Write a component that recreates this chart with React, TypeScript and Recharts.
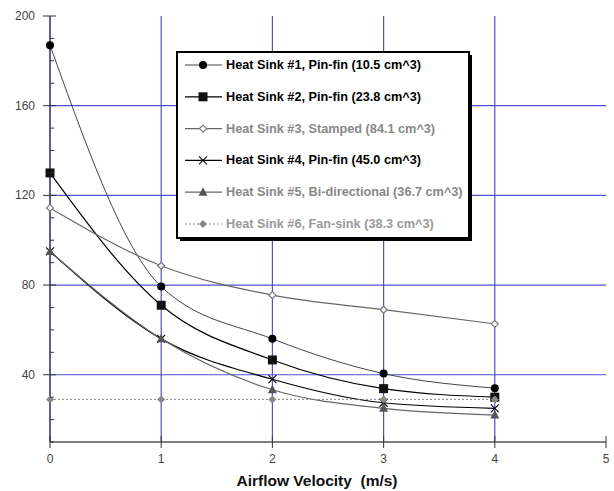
import React from 'react';
import { LineChart, Line, XAxis, YAxis, CartesianGrid, Legend } from 'recharts';

const velocities = [0, 1, 2, 3, 4];
const hs1 = [187, 79.3, 56, 40.5, 34];
const hs2 = [130, 71, 46.6, 33.8, 30];
const hs3 = [114.4, 88.6, 75.5, 69, 62.7];
const hs4 = [95, 56, 38, 27.5, 25];
const hs5 = [95, 56, 33.3, 25, 22];
const hs6 = [29, 29, 29, 29, 29];

const seriesNames = [
  'Heat Sink #1, Pin-fin (10.5 cm^3)',
  'Heat Sink #2, Pin-fin (23.8 cm^3)',
  'Heat Sink #3, Stamped (84.1 cm^3)',
  'Heat Sink #4, Pin-fin (45.0 cm^3)',
  'Heat Sink #5, Bi-directional (36.7 cm^3)',
  'Heat Sink #6, Fan-sink (38.3 cm^3)',
];

const xTicks = [0, 1, 2, 3, 4, 5];
const yMajorTicks = [40, 80, 120, 160, 200];
const yAllTicks = [10, 20, 30, 40, 50, 60, 70, 80, 90, 100, 110, 120, 130, 140, 150, 160, 170, 180, 190, 200];
const xAxisTitle = 'Airflow Velocity  (m/s)';

const data = velocities.map((v, i) => ({
  v,
  hs1: hs1[i],
  hs2: hs2[i],
  hs3: hs3[i],
  hs4: hs4[i],
  hs5: hs5[i],
  hs6: hs6[i],
}));

const FONT = '"Liberation Sans", Arial, sans-serif';

const CircleMark = ({ cx, cy }: any) => <circle cx={cx} cy={cy} r={4} fill="#000" />;
const SquareMark = ({ cx, cy }: any) => <rect x={cx - 4.5} y={cy - 4.5} width={9} height={9} fill="#111" />;
const OpenDiamondMark = ({ cx, cy }: any) => (
  <polygon points={`${cx},${cy - 3.5} ${cx + 3.5},${cy} ${cx},${cy + 3.5} ${cx - 3.5},${cy}`} fill="#fff" stroke="#777" strokeWidth={1.2} />
);
const CrossMark = ({ cx, cy }: any) => (
  <g stroke="#000" strokeWidth={1.1}>
    <line x1={cx - 4} y1={cy - 4} x2={cx + 4} y2={cy + 4} />
    <line x1={cx - 4} y1={cy + 4} x2={cx + 4} y2={cy - 4} />
  </g>
);
const TriangleMark = ({ cx, cy }: any) => (
  <polygon points={`${cx},${cy - 5} ${cx + 4.5},${cy + 3.5} ${cx - 4.5},${cy + 3.5}`} fill="#555" />
);
const FilledDiamondMark = ({ cx, cy }: any) => (
  <polygon points={`${cx},${cy - 4} ${cx + 4},${cy} ${cx},${cy + 4} ${cx - 4},${cy}`} fill="#888" />
);

const seriesStyles = [
  { key: 'hs1', stroke: '#444', width: 1, dash: undefined, Mark: CircleMark, text: '#000' },
  { key: 'hs2', stroke: '#000', width: 1.2, dash: undefined, Mark: SquareMark, text: '#000' },
  { key: 'hs3', stroke: '#666', width: 1.2, dash: undefined, Mark: OpenDiamondMark, text: '#888' },
  { key: 'hs4', stroke: '#000', width: 1.2, dash: undefined, Mark: CrossMark, text: '#000' },
  { key: 'hs5', stroke: '#666', width: 1.2, dash: undefined, Mark: TriangleMark, text: '#888' },
  { key: 'hs6', stroke: '#888', width: 1, dash: '2 2', Mark: FilledDiamondMark, text: '#999' },
];

const LeftTick = ({ x, y, payload }: any) => {
  const v = payload.value;
  const major = yMajorTicks.includes(v);
  return (
    <g>
      {major ? (
        <line x1={x - 7} y1={y} x2={x + 6} y2={y} stroke="#333" strokeWidth={1} />
      ) : (
        <line x1={x} y1={y} x2={x + 4} y2={y} stroke="#333" strokeWidth={1} />
      )}
      {major && (
        <text x={x - 15} y={y} textAnchor="end" dominantBaseline="central" fontFamily={FONT} fontSize={12} fill="#444">
          {v}
        </text>
      )}
    </g>
  );
};

const RightTick = ({ x, y, payload }: any) => {
  const v = payload.value;
  const major = yMajorTicks.includes(v);
  return major ? (
    <line x1={x - 6} y1={y} x2={x + 6} y2={y} stroke="#333" strokeWidth={1} />
  ) : (
    <line x1={x - 4} y1={y} x2={x} y2={y} stroke="#333" strokeWidth={1} />
  );
};

const BottomTick = ({ x, y, payload }: any) => (
  <g>
    <line x1={x} y1={y - 6} x2={x} y2={y + 6} stroke="#333" strokeWidth={1} />
    <text x={x} y={y + 17} textAnchor="middle" dominantBaseline="central" fontFamily={FONT} fontSize={12} fill="#444">
      {payload.value}
    </text>
  </g>
);

const TopTick = ({ x, y }: any) => <line x1={x} y1={y - 4} x2={x} y2={y + 5} stroke="#333" strokeWidth={1} />;

const LegendBox = () => (
  <svg width={300} height={194} style={{ display: 'block' }}>
    <rect x={4} y={4} width={292} height={186} fill="#000" />
    <rect x={1} y={1} width={292} height={186} fill="#fff" stroke="#000" strokeWidth={2} />
    {seriesStyles.map((s, i) => {
      const cy = 14 + i * 31.8;
      const M = s.Mark;
      return (
        <g key={s.key}>
          <line x1={9} y1={cy} x2={46} y2={cy} stroke={s.stroke} strokeWidth={s.width} strokeDasharray={s.dash} />
          <M cx={27} cy={cy} />
          <text x={50} y={cy} dominantBaseline="central" fontFamily={FONT} fontWeight="bold" fontSize={12.7} fill={s.text}>
            {seriesNames[i]}
          </text>
        </g>
      );
    })}
  </svg>
);

const AxisTitle = ({ viewBox }: any) => {
  const { x, y, width } = viewBox;
  return (
    <text
      x={x + width / 2 - 11}
      y={y + 38}
      textAnchor="middle"
      dominantBaseline="central"
      fontFamily={FONT}
      fontWeight="bold"
      fontSize={15.5}
      fill="#111"
      style={{ whiteSpace: 'pre' }}
    >
      {xAxisTitle}
    </text>
  );
};

export default function App() {
  return (
    <div style={{ position: 'absolute', left: 0, top: 0, background: '#fff' }}>
      <LineChart width={614} height={491} data={data} margin={{ top: 16, right: 8, bottom: 0, left: 0 }}>
        <CartesianGrid
          horizontalValues={[40, 80, 120, 160]}
          verticalValues={[1, 2, 3, 4]}
          stroke="#5050d4"
          strokeWidth={1.2}
        />
        <XAxis
          dataKey="v"
          type="number"
          domain={[0, 5]}
          ticks={xTicks}
          interval={0}
          height={49}
          tickSize={0}
          tickMargin={0}
          tick={<BottomTick />}
          axisLine={{ stroke: '#555', strokeWidth: 1.5 }}
          tickLine={false}
          label={<AxisTitle />}
        />
        <XAxis
          xAxisId="top"
          orientation="top"
          dataKey="v"
          type="number"
          domain={[0, 5]}
          ticks={xTicks}
          interval={0}
          height={0}
          tickSize={0}
          tickMargin={0}
          tick={<TopTick />}
          axisLine={{ stroke: '#555', strokeWidth: 1.5 }}
          tickLine={false}
        />
        <YAxis
          type="number"
          domain={[10, 200]}
          ticks={yAllTicks}
          interval={0}
          width={50}
          tickSize={0}
          tickMargin={0}
          tick={<LeftTick />}
          axisLine={{ stroke: '#2a2a70', strokeWidth: 1.5 }}
          tickLine={false}
          allowDataOverflow
        />
        <YAxis
          yAxisId="right"
          orientation="right"
          type="number"
          domain={[10, 200]}
          ticks={yAllTicks}
          interval={0}
          width={0}
          tickSize={0}
          tickMargin={0}
          tick={<RightTick />}
          axisLine={{ stroke: '#2a2a70', strokeWidth: 1.5 }}
          tickLine={false}
          allowDataOverflow
        />
        {seriesStyles.map((s) => {
          const M = s.Mark;
          return (
            <Line
              key={s.key}
              dataKey={s.key}
              type="monotone"
              stroke={s.stroke}
              strokeWidth={s.width}
              strokeDasharray={s.dash}
              dot={(p: any) => <M key={`${s.key}-${p.index}`} cx={p.cx} cy={p.cy} />}
              activeDot={false}
              isAnimationActive={false}
            />
          );
        })}
        <Legend
          layout="vertical"
          align="center"
          verticalAlign="middle"
          content={<LegendBox />}
          wrapperStyle={{ position: 'absolute', left: 176, top: 51, width: 300, height: 194 }}
        />
      </LineChart>
    </div>
  );
}
